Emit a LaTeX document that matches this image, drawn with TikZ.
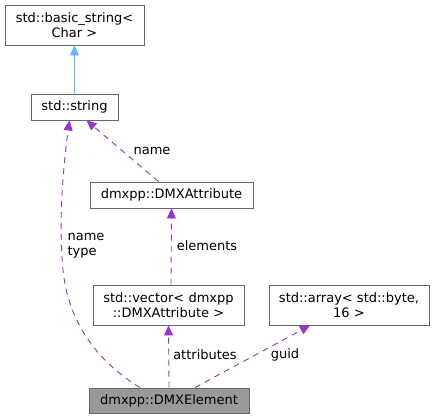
\documentclass[tikz,border=0pt]{standalone}
\usepackage{fontspec}
\setmainfont{DejaVu Sans}
\usetikzlibrary{arrows.meta,calc}
\definecolor{edgepurple}{HTML}{9A32CD}
\definecolor{edgeblue}{HTML}{63B8FF}
\definecolor{boxgray}{HTML}{666666}
\definecolor{nodegray}{HTML}{999999}
\begin{document}
\begin{tikzpicture}[x=1pt,y=-1pt,
  box/.style={draw=boxgray, line width=0.9pt, fill=white, inner sep=0pt,
    font=\fontsize{13}{15}\selectfont, align=center},
  lbl/.style={font=\fontsize{13}{15}\selectfont, inner sep=0pt, align=left},
  useedge/.style={draw=edgepurple, line width=0.9pt, dash pattern=on 6pt off 5pt,
    -{Triangle[length=10pt,width=9pt]}},
  inhedge/.style={draw=edgeblue, line width=0.9pt, -{Triangle[length=10pt,width=9pt]}}]
\useasboundingbox (0,0) rectangle (435,419);
\node[box, minimum width=139pt, minimum height=40pt] (basic) at (74.5,25) {std::basic\_string<\\Char >};
\node[box, minimum width=87pt, minimum height=26pt] (str) at (74.5,107) {std::string};
\node[box, minimum width=163pt, minimum height=26pt] (attr) at (171.5,195) {dmxpp::DMXAttribute};
\node[box, minimum width=151pt, minimum height=40pt] (vec) at (168.5,305) {std::vector< dmxpp\\::DMXAttribute >};
\node[box, minimum width=160pt, minimum height=40pt] (arr) at (349,305) {std::array< std::byte,\\16 >};
\node[box, fill=nodegray, minimum width=160pt, minimum height=25pt] (elem) at (169,400.5) {dmxpp::DMXElement};

\draw[inhedge] (str.north) -- (basic.south);
\draw[useedge] ($(attr.north)+(-13,0)$) -- ($(str.south)+(12,0)$);
\draw[useedge] ($(elem.north)+(-29,0)$) .. controls (95,360) and (68,320) .. (63,270)
   .. controls (58,220) and (64,160) .. ($(str.south)+(-5,0)$);
\draw[useedge] ($(vec.north)+(2.5,0)$) -- (attr.south);
\draw[useedge] (elem.north) -- (vec.south);
\draw[useedge] ($(elem.north)+(26,0)$) -- ($(arr.south)+(-39,0)$);

\node[lbl] (lname) at (152,151) {name};
\node[lbl] (lnametype) at (86,246) {name\\type};
\node[lbl] (lelem) at (207,246) {elements};
\node[lbl] (lattrs) at (205,355) {attributes};
\node[lbl] (lguid) at (285,355) {guid};
\end{tikzpicture}
\end{document}
